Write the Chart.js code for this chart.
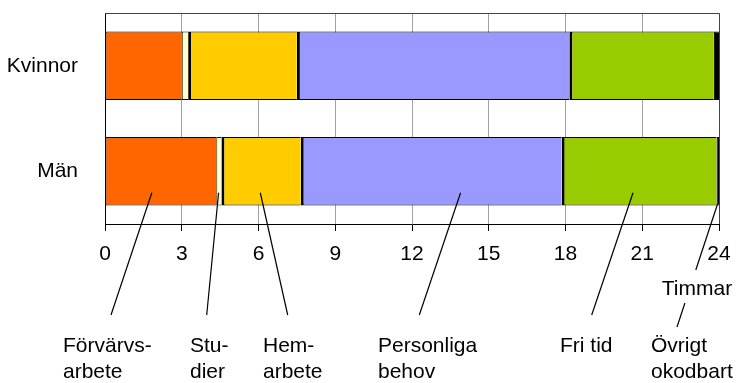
<!DOCTYPE html>
<html>
<head>
<meta charset="utf-8">
<script src="https://cdn.jsdelivr.net/npm/chart.js@4/dist/chart.umd.min.js"></script>
<style>
  html, body { margin: 0; padding: 0; background: #fff; }
  #wrap { width: 737px; height: 383px; }
</style>
</head>
<body>
<div id="wrap"><canvas id="c" width="737" height="383"></canvas></div>
<script>
// Time use over a 24-hour day, hours per activity
const categories = ['Kvinnor', 'Män'];
const activities = ['Förvärvsarbete', 'Studier', 'Hemarbete', 'Personliga behov', 'Fri tid', 'Övrigt okodbart'];
const kvinnor = [3.0, 0.25, 4.25, 10.65, 5.65, 0.2];
const man     = [4.35, 0.2, 3.1, 10.2, 6.05, 0.1];
const hourTicks = [0, 3, 6, 9, 12, 15, 18, 21, 24];
const axisTitle = 'Timmar';

// Callout labels under the chart and the hour each leader line points at (in the Män bar)
const calloutText = [['Förvärvs-', 'arbete'], ['Stu-', 'dier'], ['Hem-', 'arbete'], ['Personliga', 'behov'], ['Fri tid'], ['Övrigt', 'okodbart']];
const calloutHours = [1.83, 4.44, 6.07, 13.9, 20.64, 23.94];

const colors = ['#FF6600', '#FFFFCC', '#FFCC00', '#9999FF', '#99CC00', '#000000'];
const leftBorder = [1, 1, 3, 3, 3, 1];

// Placement of the callout lines and text (pixels)
const calloutPlace = [
  { dy: 21.5, x2: 111,   y2: 315, tx: 63 },
  { dy: 21.5, x2: 206.7, y2: 315, tx: 190 },
  { dy: 21.5, x2: 287.7, y2: 315, tx: 263 },
  { dy: 21.5, x2: 419.3, y2: 315, tx: 378 },
  { dy: 21.5, x2: 591.7, y2: 315, tx: 560 },
  { dy: 33,   x2: 677,   y2: 327, tx: 651, gap: [270, 303] }
];

const FONT = "'Liberation Sans', Arial, sans-serif";

const framePlugin = {
  id: 'frame',
  afterDraw(chart) {
    const { ctx, chartArea: a } = chart;
    ctx.save();
    ctx.strokeStyle = '#444';
    ctx.lineWidth = 1;
    ctx.beginPath();
    ctx.moveTo(a.left, a.top + 0.5);
    ctx.lineTo(a.right + 0.5, a.top + 0.5);
    ctx.lineTo(a.right + 0.5, a.bottom);
    ctx.stroke();
    ctx.restore();
  }
};

const calloutPlugin = {
  id: 'callouts',
  afterDraw(chart) {
    const { ctx } = chart;
    const xs = chart.scales.x, ys = chart.scales.y;
    const barY = ys.getPixelForValue(1);
    ctx.save();
    ctx.strokeStyle = '#000';
    ctx.lineWidth = 1.2;
    ctx.fillStyle = '#000';
    ctx.font = '21px ' + FONT;
    ctx.textBaseline = 'alphabetic';
    ctx.textAlign = 'left';
    calloutText.forEach((lines, i) => {
      const p = calloutPlace[i];
      const x1 = xs.getPixelForValue(calloutHours[i]);
      const y1 = barY + p.dy;
      ctx.beginPath();
      if (p.gap) {
        const t1 = (p.gap[0] - y1) / (p.y2 - y1);
        const t2 = (p.gap[1] - y1) / (p.y2 - y1);
        ctx.moveTo(x1, y1);
        ctx.lineTo(x1 + (p.x2 - x1) * t1, p.gap[0]);
        ctx.moveTo(x1 + (p.x2 - x1) * t2, p.gap[1]);
        ctx.lineTo(p.x2, p.y2);
      } else {
        ctx.moveTo(x1, y1);
        ctx.lineTo(p.x2, p.y2);
      }
      ctx.stroke();
      lines.forEach((t, k) => ctx.fillText(t, p.tx, 352 + k * 26));
    });
    // axis unit, between the tick labels and the last callout
    ctx.textAlign = 'center';
    ctx.fillText(axisTitle, 697, 295);
    ctx.restore();
  }
};

new Chart(document.getElementById('c'), {
  type: 'bar',
  data: {
    labels: categories,
    datasets: activities.map((name, i) => ({
      label: name,
      data: [kvinnor[i], man[i]],
      backgroundColor: colors[i],
      borderColor: '#000',
      borderWidth: { left: leftBorder[i], right: 0, top: 1, bottom: 1 },
      borderSkipped: false,
      barPercentage: 0.65,
      categoryPercentage: 1.0
    }))
  },
  options: {
    indexAxis: 'y',
    responsive: false,
    animation: false,
    devicePixelRatio: 1,
    layout: { padding: { top: 13, right: 18, bottom: 0, left: 0 } },
    plugins: {
      legend: { display: false },
      tooltip: { enabled: false }
    },
    scales: {
      x: {
        stacked: true,
        min: 0,
        max: 24,
        afterBuildTicks(scale) { scale.ticks = hourTicks.map(v => ({ value: v })); },
        afterFit(scale) {
          scale.height = 159;
          scale.paddingLeft = 0;
          scale.paddingRight = 0;
        },
        grid: { color: '#a0a0a0', lineWidth: 1, tickColor: '#000', tickLength: 7, drawTicks: true },
        border: { color: '#000', width: 1 },
        ticks: { color: '#000', padding: 11, maxRotation: 0, font: { family: FONT, size: 21 } }
      },
      y: {
        stacked: true,
        afterFit(scale) {
          scale.width = 105;
          scale.paddingTop = 0;
          scale.paddingBottom = 0;
        },
        grid: { display: false },
        border: { color: '#000', width: 1 },
        ticks: { color: '#000', padding: 19, font: { family: FONT, size: 21 } }
      }
    }
  },
  plugins: [framePlugin, calloutPlugin]
});
</script>
</body>
</html>
